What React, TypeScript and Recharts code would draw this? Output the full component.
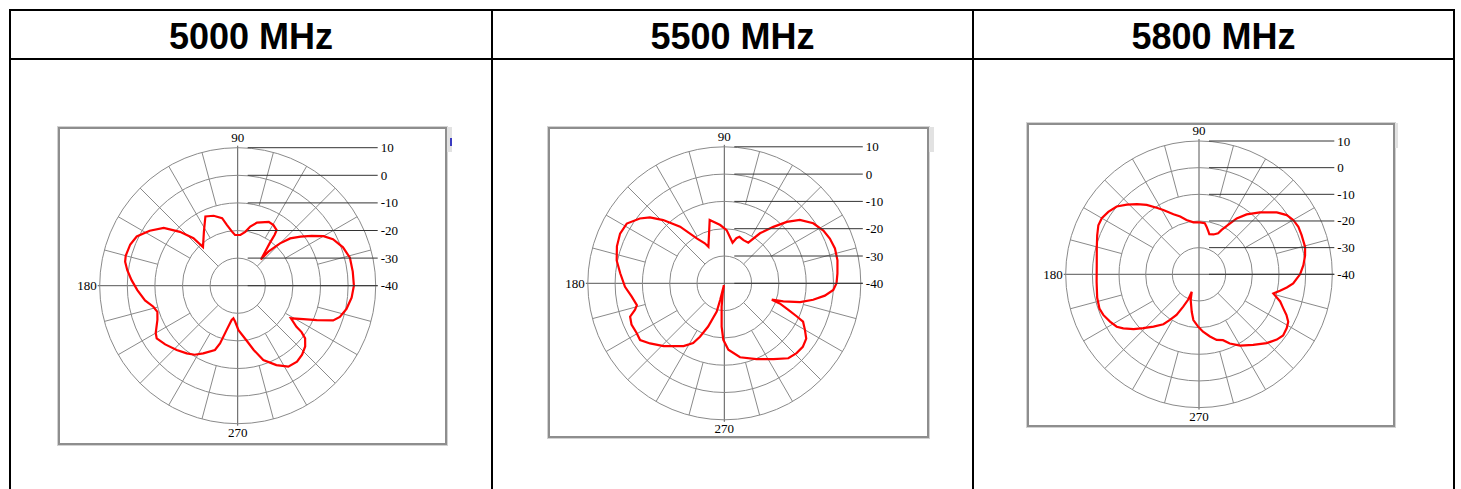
import React from 'react';
import { RadarChart, Radar, PolarGrid, PolarAngleAxis, PolarRadiusAxis } from 'recharts';

// header labels, one per column
const frequencies = ['5000 MHz', '5500 MHz', '5800 MHz'];

// radial scale (dB) and the angle labels shown round the circle
const radiusTicks = [-40, -30, -20, -10, 0, 10];
const angleTicks = [90, 180, 270];

// 5000 MHz pattern, angle in degrees, gain in dB
const angles5000 = [0, 7, 14, 20, 26, 30, 34, 38, 42, 45, 48, 48.5, 51, 53, 54, 55, 59.5, 64, 73, 78, 82, 87, 93, 96, 100, 103, 109, 115, 122, 132, 133, 137, 142, 148, 154, 159, 165, 168, 172, 177, 182.5, 189, 194, 198, 203, 210, 213, 219, 226.5, 233, 238, 243, 250.5, 253, 256, 260, 262.5, 266, 271, 279, 284, 289, 296, 302, 308, 313, 318, 322, 324, 325, 328.5, 333, 336.5, 340, 343, 348, 354];
const gain5000 = [2.1, 2.0, 1.9, 0.6, -1.6, -4.1, -7.7, -11.1, -14.4, -18.3, -23.4, -27.3, -24.2, -20.7, -17.2, -15.4, -14.5, -14.3, -16.1, -18.1, -20.3, -21.6, -21.6, -20.3, -17.7, -14.9, -13.2, -12.3, -16.9, -21.2, -16.5, -11.4, -6.0, -2.4, 0.7, 1.7, 2.0, 1.7, 0.4, -1.5, -3.6, -6.0, -8.5, -9.4, -8.4, -5.7, -5.0, -6.2, -7.9, -9.3, -10.5, -12.5, -15.3, -18.1, -23.5, -27.4, -28.1, -26.9, -23.9, -20.0, -16.0, -11.5, -8.0, -5.4, -5.1, -5.8, -7.1, -9.0, -11.4, -14.0, -17.4, -13.3, -8.8, -3.2, -1.3, 0.3, 1.5];

// 5500 MHz pattern
const angles5500 = [0, 5, 11.5, 17.5, 23, 28, 34, 40, 44.5, 49, 54.5, 59.5, 66, 72, 75, 78.5, 82, 87.5, 94, 100, 103, 107, 113.5, 116, 121.5, 128, 134, 138.5, 142.5, 148.5, 154.5, 161, 168, 174.5, 182, 188, 194, 196.5, 199.5, 204, 209.5, 214, 219, 226, 237, 242.5, 245.5, 249.5, 255, 256, 258, 261, 263.5, 266.5, 269, 273.5, 282, 293, 303, 310.5, 316, 321, 326, 330, 334, 335.5, 337.5, 340, 341, 343, 346, 349.5, 353, 356.5];
const gain5500 = [1.1, 1.6, 2.3, 2.5, 2.0, 1.1, -0.7, -3.9, -7.9, -12.6, -17.5, -22.7, -22.7, -22.1, -22.9, -24.8, -23.4, -20.5, -18.6, -17.1, -16.2, -20.9, -25.4, -23.7, -20.7, -13.7, -7.8, -3.6, -1.0, 1.9, 2.3, 1.6, 0.3, -1.7, -3.6, -5.7, -7.0, -5.9, -3.4, -2.8, -3.1, -2.8, -5.0, -8.0, -12.6, -15.3, -18.5, -23.1, -29.3, -33.7, -39.3, -36.3, -31.4, -24.1, -19.3, -15.6, -12.3, -9.8, -6.9, -3.9, -3.2, -3.0, -3.8, -5.9, -7.9, -10.9, -14.6, -18.4, -21.6, -17.4, -11.4, -6.9, -2.9, 0.0];

// 5800 MHz pattern
const angles5800 = [0, 5, 10, 14.5, 21, 25.5, 30, 34, 38.5, 45.5, 51.5, 56, 59.5, 63, 65, 70, 75.5, 77.5, 81, 83.5, 89, 96, 103, 108, 113, 119, 122.5, 127, 131.5, 136, 140.5, 145.5, 150, 154, 159, 165.5, 175, 184, 193, 199, 203, 208, 212.5, 215.5, 220, 224, 229, 234.5, 237.5, 241, 244, 246.8, 247.5, 252, 259, 263, 269, 274, 280, 285, 290, 294, 300, 307.5, 314.5, 320, 324, 328.5, 332, 335, 338, 341.5, 345.5, 348.5, 351.5, 354.5, 357.5];
const gain5800 = [-2.1, -0.7, 0.4, 1.1, 1.2, 1.3, 0.8, -0.3, -2.7, -7.4, -11.3, -14.7, -18.5, -21.3, -23.0, -24.1, -24.5, -23.6, -21.9, -20.7, -20.5, -20.4, -19.1, -17.2, -15.5, -12.4, -10.4, -7.4, -4.9, -2.4, 0.0, 1.3, 2.1, 2.0, 0.9, -0.4, -1.5, -1.5, -0.8, -0.5, -1.0, -2.2, -3.4, -5.1, -8.0, -10.9, -14.0, -17.0, -19.7, -22.6, -26.5, -29.6, -32.9, -29.9, -25.7, -22.7, -20.4, -18.4, -16.3, -14.5, -13.7, -11.6, -9.1, -6.6, -3.8, -1.9, -1.0, -1.4, -2.1, -3.8, -5.9, -7.9, -11.2, -9.0, -6.7, -4.5, -3.3];

const toRows = (angles: number[], gains: number[]) => angles.map((angle, i) => ({ angle, gain: gains[i] }));

const GRID = '#8a8a8a';
const AXIS = '#555';
const LABEL_FONT = "'Times New Roman', 'Liberation Serif', serif";

// spokes start on different rings: 45s from ring 1, 30s from ring 2, odd 15s from ring 3
const spokeSets = [
  { ring: 1, angles: [45, 135, 225, 315] },
  { ring: 2, angles: [30, 60, 120, 150, 210, 240, 300, 330] },
  { ring: 3, angles: [15, 75, 105, 165, 195, 255, 285, 345] },
];

type Box = { left: number; top: number; width: number; height: number; cx: number; cy: number; r: number; tab: number };

const boxes: Box[] = [
  { left: 58, top: 127, width: 389, height: 318, cx: 179.7, cy: 158.7, r: 138, tab: 5 },
  { left: 548, top: 127, width: 381, height: 311, cx: 176.3, cy: 156.3, r: 136.5, tab: 5 },
  { left: 1027, top: 123, width: 368, height: 304, cx: 172, cy: 151.3, r: 133.3, tab: 3 },
];

const patterns = [toRows(angles5000, gain5000), toRows(angles5500, gain5500), toRows(angles5800, gain5800)];

const layerStyle: React.CSSProperties = { position: 'absolute', left: 0, top: 0 };
const noMargin = { top: 0, right: 0, bottom: 0, left: 0 };

const PolarPlot = ({ box, data, showMark }: { box: Box; data: { angle: number; gain: number }[]; showMark: boolean }) => {
  const { cx, cy, r } = box;

  const radiusTick = (props: any) => {
    const { x, y, payload } = props;
    return (
      <g>
        <line x1={x + 10} y1={y} x2={x + r + 2} y2={y} stroke="#333" strokeWidth={1} />
        <text x={x + r + 5} y={y + 4.5} fontSize={13} fontFamily={LABEL_FONT} fill="#000" textAnchor="start">
          {payload.value}
        </text>
      </g>
    );
  };

  const angleTick = (props: any) => {
    const { x, y, payload } = props;
    const v = Number(payload.value);
    let tx = x;
    let ty = y + 5;
    let anchor: 'middle' | 'end' = 'middle';
    if (v === 90) ty = y + 2;
    if (v === 180) {
      tx = x + 5;
      ty = y + 4.5;
      anchor = 'end';
    }
    return (
      <text x={tx} y={ty} fontSize={13} fontFamily={LABEL_FONT} fill="#000" textAnchor={anchor}>
        {v}
      </text>
    );
  };

  const common = {
    width: box.width,
    height: box.height,
    data,
    cx,
    cy,
    startAngle: 0,
    endAngle: 360,
    margin: noMargin,
  };

  return (
    <div style={{ position: 'absolute', left: box.left, top: box.top, width: box.width, height: box.height }}>
      {/* grey frame round the plot */}
      <div
        style={{
          position: 'absolute',
          inset: 0,
          boxSizing: 'border-box',
          border: '2px solid #8e8e8e',
          boxShadow: '0 0 0 1px #d2d2d2',
        }}
      />
      {/* little grey tab at the top right */}
      <div
        style={{
          position: 'absolute',
          left: box.width,
          top: 0,
          width: box.tab,
          height: 25,
          background: '#e2e2e2',
        }}
      >
        {showMark && <div style={{ position: 'absolute', left: 3, top: 11, width: 2, height: 8, background: '#3a3ac0' }} />}
      </div>

      {/* spokes */}
      {spokeSets.map((s) => (
        <div key={s.ring} style={layerStyle}>
          <RadarChart {...common} innerRadius={(r * s.ring) / 5} outerRadius={r}>
            <PolarGrid gridType="circle" polarAngles={s.angles} polarRadius={[]} stroke={GRID} />
          </RadarChart>
        </div>
      ))}

      {/* main axes */}
      <div style={layerStyle}>
        <RadarChart {...common} innerRadius={0} outerRadius={r + 2}>
          <PolarGrid gridType="circle" polarAngles={[0, 90, 180, 270]} polarRadius={[]} stroke={AXIS} />
        </RadarChart>
      </div>

      {/* rings, labels and the pattern */}
      <div style={layerStyle}>
        <RadarChart {...common} innerRadius={0} outerRadius={r}>
          <PolarGrid gridType="circle" radialLines={false} stroke={GRID} />
          <PolarAngleAxis
            dataKey="angle"
            type="number"
            domain={[0, 360]}
            ticks={angleTicks}
            axisLine={false}
            tickLine={false}
            tick={angleTick}
          />
          <PolarRadiusAxis
            type="number"
            angle={90}
            domain={[-40, 10]}
            ticks={radiusTicks}
            tickCount={6}
            allowDataOverflow
            axisLine={false}
            tick={radiusTick}
          />
          <Radar
            dataKey="gain"
            stroke="#ff0000"
            strokeWidth={2.2}
            fill="none"
            fillOpacity={0}
            dot={false}
            isAnimationActive={false}
          />
        </RadarChart>
      </div>
    </div>
  );
};

const columns = [
  { left: 11, right: 491 },
  { left: 493, right: 972 },
  { left: 974, right: 1453 },
];

const line = (left: number, top: number, width: number, height: number, key: string) => (
  <div key={key} style={{ position: 'absolute', left, top, width, height, background: '#000' }} />
);

export default function App() {
  return (
    <div style={{ position: 'absolute', left: 0, top: 0, width: 1461, height: 489, background: '#fff', overflow: 'hidden' }}>
      {line(9, 9, 1446, 2, 'top')}
      {line(9, 58, 1446, 2, 'head')}
      {line(9, 9, 2, 480, 'l')}
      {line(491, 9, 2, 480, 'c1')}
      {line(972, 9, 2, 480, 'c2')}
      {line(1453, 9, 2, 480, 'r')}

      {frequencies.map((f, i) => (
        <div
          key={f}
          style={{
            position: 'absolute',
            left: columns[i].left,
            width: columns[i].right - columns[i].left,
            top: 13,
            height: 47,
            lineHeight: '47px',
            textAlign: 'center',
            fontFamily: "Arial, 'Liberation Sans', sans-serif",
            fontWeight: 'bold',
            fontSize: 36,
            color: '#000',
          }}
        >
          {f}
        </div>
      ))}

      {boxes.map((b, i) => (
        <PolarPlot key={i} box={b} data={patterns[i]} showMark={i === 0} />
      ))}
    </div>
  );
}
